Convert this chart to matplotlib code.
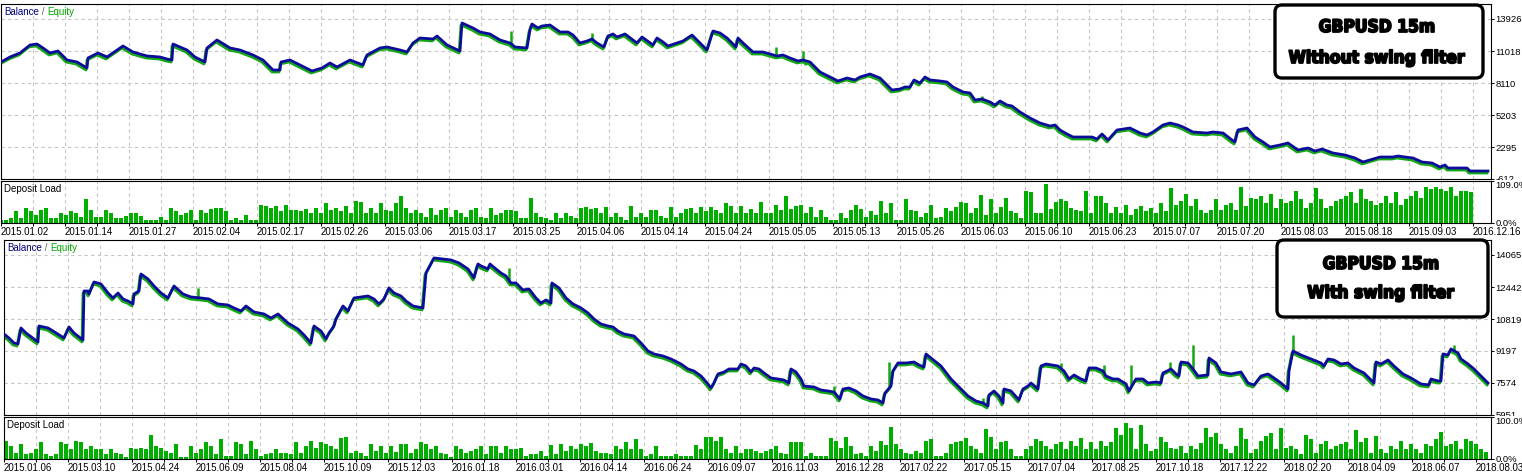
import numpy as np
import matplotlib
matplotlib.use('Agg')
import matplotlib.pyplot as plt
import matplotlib.transforms as mtransforms
import matplotlib.patheffects as pe
from matplotlib.patches import FancyBboxPatch
from matplotlib import font_manager

plt.rcParams['font.family'] = ['Liberation Sans', 'DejaVu Sans']
plt.rcParams['font.size'] = 7

# ---------------- data: panel 1 (without swing filter) ----------------
bal1_trade = [0, 9, 19, 29, 36, 42, 49, 57, 66, 76, 86, 87, 97, 106, 122, 132, 146, 159, 166, 171,
              172, 186, 194, 204, 206, 216, 229, 239, 252, 262, 272, 279, 280, 289, 299, 311, 321,
              329, 336, 349, 362, 366, 379, 386, 399, 406, 412, 419, 432, 436, 446, 459, 461, 472,
              479, 489, 499, 509, 514, 526, 529, 531, 537, 541, 549, 559, 567, 572, 579, 586, 591,
              596, 603, 607, 612, 616, 624, 632, 636, 641, 652, 656, 662, 667, 676, 682, 691, 696,
              706, 707, 712, 719, 726, 735, 737, 742, 752, 762, 769, 776, 782, 789, 797, 802, 809,
              819, 829, 837, 846, 854, 859, 869, 879, 891, 899, 904, 909, 913, 919, 924, 929, 939,
              946, 952, 962, 969, 974, 981, 989, 994, 999, 1006, 1011, 1019, 1029, 1039, 1049, 1054,
              1059, 1066, 1072, 1079, 1091, 1096, 1101, 1107, 1116, 1129, 1139, 1146, 1152, 1162,
              1169, 1177, 1182, 1192, 1206, 1212, 1222, 1231, 1234, 1237, 1246, 1254, 1262, 1269,
              1279, 1287, 1297, 1307, 1314, 1321, 1332, 1344, 1354, 1362, 1372, 1379, 1392, 1397,
              1404, 1412, 1421, 1431, 1439, 1444, 1447, 1466, 1469, 1487]
bal1_value = [10019, 10473, 10837, 11564, 11654, 11291, 10837, 11018, 10201, 10019, 9474, 10382,
              10837, 10473, 11473, 10927, 10564, 10473, 10291, 10200, 11654, 11109, 10473, 10019,
              11291, 12018, 11291, 11109, 10655, 10201, 9292, 9292, 10019, 10201, 9746, 9201, 9474,
              9928, 9565, 10201, 9746, 10655, 11291, 11382, 11109, 10927, 11745, 12200, 12109,
              12381, 11564, 11018, 13563, 13108, 12745, 12563, 12018, 11745, 11382, 11291, 12927,
              13472, 13108, 13290, 13381, 12745, 12745, 12472, 11745, 11927, 12109, 11745, 11382,
              12381, 12563, 12291, 12563, 12018, 11745, 12291, 11564, 12200, 11836, 11473, 11745,
              11927, 12472, 12018, 11109, 11382, 12836, 12654, 12200, 11382, 12200, 11745, 10927,
              10927, 10746, 10564, 10655, 10382, 10110, 10201, 10019, 9110, 8656, 8292, 8565, 8383,
              8656, 8928, 8565, 7474, 7565, 7747, 7747, 8383, 8110, 8656, 8383, 8292, 8201, 7747,
              7293, 7202, 6566, 6657, 6384, 6111, 6475, 6111, 6020, 5475, 4930, 4476, 4203, 4294,
              3840, 3476, 3203, 3203, 3203, 3022, 3476, 2931, 3840, 4021, 3567, 3385, 3658, 4294,
              4476, 4294, 4112, 3658, 3567, 3658, 3567, 2931, 2749, 3840, 4021, 3203, 2749, 2295,
              2476, 2658, 2022, 2204, 1931, 2113, 1749, 1568, 1295, 932, 1204, 1386, 1386, 1477,
              1386, 1295, 932, 841, 477, 659, 386, 386, 114, 114]
eq1_trade = [510, 591, 775, 802, 804, 981]
eq1_value = [12836, 12654, 11382, 11018, 9746, 6929]
y1_ticks = [13926, 11018, 8110, 5203, 2295, -612]
load1 = [7, 7, 12, 30, 12, 38, 30, 21, 35, 39, 12, 12, 25, 21, 30, 27, 16, 62, 35, 16,
         16, 35, 25, 12, 12, 18, 25, 25, 18, 7, 7, 7, 16, 7, 39, 30, 21, 25, 33, 7,
         35, 25, 36, 39, 39, 30, 7, 12, 7, 21, 7, 7, 48, 44, 39, 44, 30, 48, 35, 33,
         30, 36, 25, 39, 25, 51, 35, 39, 30, 44, 25, 57, 54, 25, 39, 25, 53, 35, 30, 51,
         71, 39, 25, 33, 25, 16, 39, 21, 35, 39, 16, 33, 25, 16, 35, 39, 16, 12, 39, 21,
         25, 35, 35, 30, 12, 12, 64, 25, 16, 12, 7, 25, 12, 25, 18, 12, 39, 42, 36, 39,
         25, 42, 16, 25, 16, 7, 45, 16, 25, 16, 33, 35, 18, 12, 42, 16, 25, 36, 39, 25,
         42, 30, 42, 35, 25, 51, 44, 25, 44, 25, 36, 25, 54, 27, 25, 48, 35, 69, 36, 44,
         48, 25, 42, 16, 33, 16, 7, 7, 25, 12, 35, 48, 36, 16, 30, 21, 57, 25, 51, 7,
         7, 62, 35, 30, 16, 25, 48, 12, 16, 39, 30, 42, 54, 51, 25, 39, 73, 21, 62, 25,
         42, 66, 30, 25, 12, 84, 80, 25, 25, 100, 36, 55, 62, 57, 39, 35, 30, 82, 25, 71,
         71, 53, 25, 42, 25, 48, 21, 36, 44, 30, 39, 25, 53, 30, 91, 48, 57, 75, 44, 62,
         35, 25, 33, 62, 35, 48, 53, 33, 94, 44, 66, 62, 71, 53, 75, 39, 62, 53, 57, 84,
         62, 39, 51, 91, 62, 39, 44, 57, 62, 71, 80, 53, 87, 62, 57, 48, 51, 71, 53, 80,
         48, 62, 71, 84, 66, 94, 89, 94, 87, 84, 94, 71, 84, 84, 80]
dates1 = ['2015.01.02', '2015.01.14', '2015.01.27', '2015.02.04', '2015.02.17', '2015.02.26',
          '2015.03.06', '2015.03.17', '2015.03.25', '2015.04.06', '2015.04.14', '2015.04.24',
          '2015.05.05', '2015.05.13', '2015.05.26', '2015.06.03', '2015.06.10', '2015.06.23',
          '2015.07.07', '2015.07.20', '2015.08.03', '2015.08.18', '2015.09.03', '2016.12.16']

# ---------------- data: panel 2 (with swing filter) ----------------
bal2_trade = [0, 5, 10, 14, 17, 22, 30, 34, 35, 44, 49, 57, 60, 65, 70, 79, 80, 84, 85, 90, 97,
              104, 109, 114, 119, 124, 129, 130, 135, 137, 144, 150, 157, 164, 170, 179, 187, 197,
              205, 214, 224, 230, 237, 242, 250, 260, 267, 274, 284, 294, 300, 307, 310, 317, 322,
              325, 330, 332, 339, 344, 350, 364, 370, 375, 380, 385, 390, 397, 402, 409, 419, 422,
              430, 439, 447, 455, 464, 470, 474, 477, 484, 486, 492, 497, 502, 507, 512, 519, 525,
              532, 537, 542, 547, 548, 555, 562, 569, 577, 584, 590, 597, 604, 609, 614, 620, 630,
              637, 644, 650, 659, 667, 677, 684, 690, 697, 704, 707, 710, 714, 720, 725, 734, 737,
              742, 747, 750, 755, 760, 767, 774, 780, 785, 787, 792, 797, 800, 810, 817, 824, 830,
              836, 839, 845, 852, 859, 867, 874, 879, 881, 887, 889, 894, 902, 910, 915, 920, 922,
              927, 937, 947, 957, 964, 972, 979, 984, 985, 990, 995, 999, 1000, 1007, 1015, 1019,
              1024, 1027, 1034, 1037, 1042, 1054, 1060, 1065, 1070, 1077, 1082, 1085, 1092, 1099,
              1102, 1109, 1114, 1122, 1125, 1129, 1132, 1139, 1144, 1152, 1157, 1159, 1167, 1172,
              1175, 1177, 1184, 1189, 1194, 1204, 1205, 1212, 1217, 1227, 1237, 1244, 1250, 1257,
              1264, 1270, 1277, 1284, 1285, 1289, 1297, 1307, 1317, 1320, 1324, 1330, 1337, 1344,
              1350, 1360, 1370, 1372, 1377, 1384, 1390, 1399, 1407, 1417, 1425, 1427, 1434, 1437,
              1439, 1444, 1447, 1454, 1457, 1464, 1470, 1477, 1484]
bal2_value = [10059, 9857, 9603, 9552, 10364, 10110, 9806, 9654, 10465, 10364, 10211, 9958, 9857,
              10414, 10110, 9755, 12240, 12240, 12088, 12697, 12595, 12139, 11885, 12139, 11835,
              11733, 11581, 12088, 12240, 13103, 12849, 12494, 12139, 11885, 12494, 12088, 11936,
              11885, 11835, 11581, 11530, 11378, 11226, 11480, 11175, 11074, 10871, 11074, 10617,
              10313, 10009, 9603, 10465, 10211, 9806, 10110, 10465, 10820, 11480, 11226, 11885,
              11987, 11835, 11581, 11835, 12393, 12139, 11987, 11733, 11480, 11378, 13153, 13914,
              13863, 13813, 13661, 13356, 12900, 13610, 13509, 13356, 13610, 13356, 13153, 13001,
              12646, 12646, 12291, 12342, 11885, 11632, 11784, 11632, 12646, 12393, 11885, 11581,
              11378, 11125, 10820, 10567, 10465, 10414, 10211, 10059, 9958, 9603, 9197, 9045, 8944,
              8792, 8538, 8284, 8183, 7929, 7524, 7321, 7574, 8031, 8132, 8284, 8284, 8538, 8436,
              8132, 8335, 8284, 8081, 7828, 7777, 7726, 7574, 8284, 8132, 7777, 7422, 7371, 7219,
              7169, 7118, 6763, 7270, 7321, 7169, 6915, 6763, 6712, 6560, 7067, 7422, 8183, 8589,
              8589, 8639, 8487, 8386, 9045, 8842, 8436, 7777, 7270, 6915, 6661, 6560, 6408, 6965,
              7169, 6915, 6560, 7270, 7169, 6712, 7270, 7422, 7574, 7270, 8436, 8538, 8436, 8183,
              7777, 7980, 7777, 7676, 8335, 8335, 8183, 7929, 7777, 7777, 7524, 7169, 7524, 7777,
              7777, 7574, 7625, 7574, 8081, 8284, 8031, 7929, 8639, 8589, 8284, 7929, 7980, 8842,
              8589, 8132, 8031, 8132, 7574, 7473, 7929, 8031, 7828, 7574, 7270, 8183, 9197, 8994,
              8792, 8589, 8436, 8792, 8741, 8538, 8589, 8335, 8081, 7574, 8639, 8538, 8741, 8436,
              8031, 7828, 7524, 7473, 7777, 7676, 7676, 9045, 8994, 9299, 9096, 8792, 8538, 8284,
              7929, 7574]
eq2_trade = [194, 505, 830, 885, 979, 1057, 1100, 1127, 1166, 1189, 1289, 1450]
eq2_value = [12393, 13407, 7422, 8639, 6813, 8589, 8487, 8487, 8639, 9502, 10009, 9502]
y2_ticks = [14065, 12442, 10819, 9197, 7574, 5951]
load2 = [44, 32, 15, 36, 11, 15, 23, 40, 11, 7, 11, 40, 36, 23, 44, 40, 23, 32, 23, 23,
         11, 23, 15, 11, 5, 27, 23, 27, 23, 57, 32, 27, 19, 15, 36, 5, 5, 32, 15, 23,
         40, 32, 11, 48, 7, 7, 40, 36, 11, 42, 23, 7, 11, 15, 23, 15, 15, 11, 40, 15,
         32, 44, 27, 40, 36, 32, 23, 50, 53, 15, 19, 15, 7, 36, 19, 32, 15, 30, 17, 36,
         36, 15, 23, 40, 36, 23, 30, 15, 11, 5, 32, 23, 15, 19, 23, 30, 11, 32, 30,
         15, 32, 23, 23, 27, 7, 11, 11, 19, 7, 33, 11, 36, 19, 32, 23, 36, 32, 38, 19,
         15, 15, 11, 30, 23, 40, 23, 47, 23, 7, 11, 30, 7, 7, 8, 11, 8, 7, 7, 33,
         23, 52, 52, 44, 52, 23, 15, 30, 15, 25, 23, 19, 15, 19, 23, 30, 15, 11, 40, 40,
         40, 7, 15, 7, 8, 8, 50, 42, 27, 53, 32, 11, 15, 7, 30, 19, 44, 33, 76, 36,
         23, 15, 11, 19, 15, 44, 47, 7, 7, 15, 36, 40, 42, 50, 32, 23, 15, 72, 52, 23,
         40, 44, 23, 7, 7, 23, 31, 48, 44, 32, 23, 36, 40, 25, 44, 30, 50, 23, 40, 23,
         44, 30, 40, 73, 57, 86, 73, 23, 80, 36, 19, 23, 52, 40, 27, 23, 30, 15, 32, 23,
         38, 75, 52, 63, 36, 23, 15, 32, 73, 47, 15, 23, 44, 55, 63, 23, 75, 27, 32, 23,
         11, 57, 48, 15, 36, 44, 23, 30, 36, 40, 23, 69, 40, 50, 15, 55, 23, 15, 32, 23,
         44, 23, 36, 23, 15, 36, 32, 47, 65, 32, 36, 42, 23, 47, 44, 36, 23, 17]
dates2 = ['2015.01.06', '2015.03.10', '2015.04.24', '2015.06.09', '2015.08.04', '2015.10.09',
          '2015.12.03', '2016.01.18', '2016.03.01', '2016.04.14', '2016.06.24', '2016.09.07',
          '2016.11.03', '2016.12.28', '2017.02.22', '2017.05.15', '2017.07.04', '2017.08.25',
          '2017.10.18', '2017.12.22', '2018.02.20', '2018.04.09', '2018.06.07', '2018.08.03']

# ---------------- style ----------------
BLUE = '#0C0C9C'
GREEN = '#14A814'
BAR = '#00AE00'
GRID = '#C4C4C4'
W, H = 1522, 476

fig = plt.figure(figsize=(W / 100, H / 100), dpi=100)
fig.patch.set_facecolor('white')

avail = {f.name for f in font_manager.fontManager.ttflist}
if 'Liberation Sans Narrow' in avail:
    TITLE_FONT = dict(family=['Liberation Sans Narrow', 'DejaVu Sans'], size=16)
else:
    TITLE_FONT = dict(family=['DejaVu Sans'], size=12.5, stretch='condensed')


def px_axes(left, top, right, bottom):
    return fig.add_axes([left / W, 1 - bottom / H, (right - left) / W, (bottom - top) / H])


def style_axes(ax):
    for s in ax.spines.values():
        s.set_linewidth(0.8)
        s.set_color('black')
    ax.set_facecolor('white')


def draw_panel(top, left, trades, balance, eq_t, eq_v, yticks, load, load_top, load_start,
               dates):
    xmax = 1491 - left
    ax = px_axes(left, top, 1491, top + 175)
    axl = px_axes(left, top + 177, 1491, top + 219)
    style_axes(ax)
    style_axes(axl)
    grid_x = np.arange(0, xmax, 32)

    # main balance / equity
    ylo = yticks[-1]
    step = (yticks[0] - yticks[-1]) / 5.0
    ax.set_ylim(ylo, ylo + step * 175 / 32.0)
    ax.set_xlim(0, xmax)
    ax.set_xticks(grid_x)
    ax.tick_params(axis='x', length=0, labelbottom=False)
    ax.yaxis.tick_right()
    ax.set_yticks(yticks)
    ax.set_yticklabels([str(v) for v in yticks])
    ax.tick_params(axis='y', length=1.8, width=0.7, pad=1.6, labelsize=6.8)
    ax.grid(True, color=GRID, linestyle=(0, (3, 3)), linewidth=0.8)
    ax.set_axisbelow(True)
    # lowest value label is partly hidden by the deposit-load pane (as in MT4)
    clip = mtransforms.TransformedBbox(
        mtransforms.Bbox([[14.9, (H - top - 176) / 100], [15.3, (H - top + 2) / 100]]),
        fig.dpi_scale_trans)
    low = ax.yaxis.get_major_ticks()[-1].label2
    low.set_clip_box(clip)
    low.set_clip_on(True)

    shift = ax.transData + mtransforms.ScaledTranslation(-1 / 100, -2 / 100, fig.dpi_scale_trans)
    ax.plot(trades, balance, color=GREEN, lw=2.0, transform=shift, zorder=2)
    base = np.interp(eq_t, trades, balance)
    ax.vlines(eq_t, base, eq_v, color=GREEN, lw=1.8, zorder=2)
    ax.plot(trades, balance, color=BLUE, lw=2.0, zorder=3)

    off = mtransforms.ScaledTranslation(3 / 100, -3 / 100, fig.dpi_scale_trans)
    t1 = ax.text(0, 1, 'Balance', transform=ax.transAxes + off, va='top', ha='left',
                 color='#000080', fontsize=7, zorder=5)
    t2 = ax.annotate(' / ', xy=(1, 0), xycoords=t1, va='bottom', ha='left',
                     color='#606060', fontsize=7, zorder=5)
    ax.annotate('Equity', xy=(1, 0), xycoords=t2, va='bottom', ha='left',
                color='#00A800', fontsize=7, zorder=5)

    # deposit load
    load_x = load_start + np.arange(len(load)) * 5
    axl.bar(load_x, load, width=3.6, color=BAR, linewidth=0, zorder=2)
    axl.set_xlim(0, xmax)
    axl.set_ylim(0, load_top)
    axl.set_xticks(grid_x)
    lbls = [dates[i // 2] if i % 2 == 0 and i // 2 < len(dates) else '' for i in range(len(grid_x))]
    axl.set_xticklabels(lbls, ha='left', fontsize=7)
    axl.tick_params(axis='x', length=1.8, width=0.7, pad=1.2)
    axl.yaxis.tick_right()
    axl.set_yticks([0, load_top])
    axl.set_yticklabels(['0.0%', '%.1f%%' % load_top])
    axl.tick_params(axis='y', length=1.8, width=0.7, pad=1.6, labelsize=6.8)
    mt = axl.yaxis.get_major_ticks()
    mt[1].label2.set_va('top')
    axl.grid(True, axis='x', color=GRID, linestyle=(0, (3, 3)), linewidth=0.8)
    axl.set_axisbelow(True)
    axl.text(0, 1, 'Deposit Load', transform=axl.transAxes + off, va='top', ha='left',
             color='black', fontsize=7, zorder=5)
    return ax, axl


draw_panel(4, 1, bal1_trade, bal1_value, eq1_trade, eq1_value, y1_ticks, load1, 109, 0, dates1)
draw_panel(240, 4, bal2_trade, bal2_value, eq2_trade, eq2_value, y2_ticks, load2, 100, 2, dates2)

# title boxes (positions in inches from bottom-left)
boxes = [((12.75, 3.98, 2.08, 0.73), (13.77, 4.49), (13.77, 4.18), 'Without swing filter'),
         ((12.77, 1.59, 2.11, 0.77), (13.81, 2.12), (13.81, 1.83), 'With swing filter')]
for (bx, by, bw, bh), p1, p2, sub in boxes:
    box = FancyBboxPatch((bx, by), bw, bh, boxstyle='round,pad=0,rounding_size=0.07',
                         transform=fig.dpi_scale_trans, fc='white', ec='black', lw=2.4,
                         zorder=10)
    fig.add_artist(box)
    for (tx, ty), s in ((p1, 'GBPUSD 15m'), (p2, sub)):
        t = fig.text(tx, ty, s, transform=fig.dpi_scale_trans, ha='center', va='center',
                     weight='bold', color='black', zorder=11, **TITLE_FONT)
        t.set_path_effects([pe.withStroke(linewidth=1.3, foreground='black')])

fig.savefig('out.png', dpi=100, facecolor='white')
